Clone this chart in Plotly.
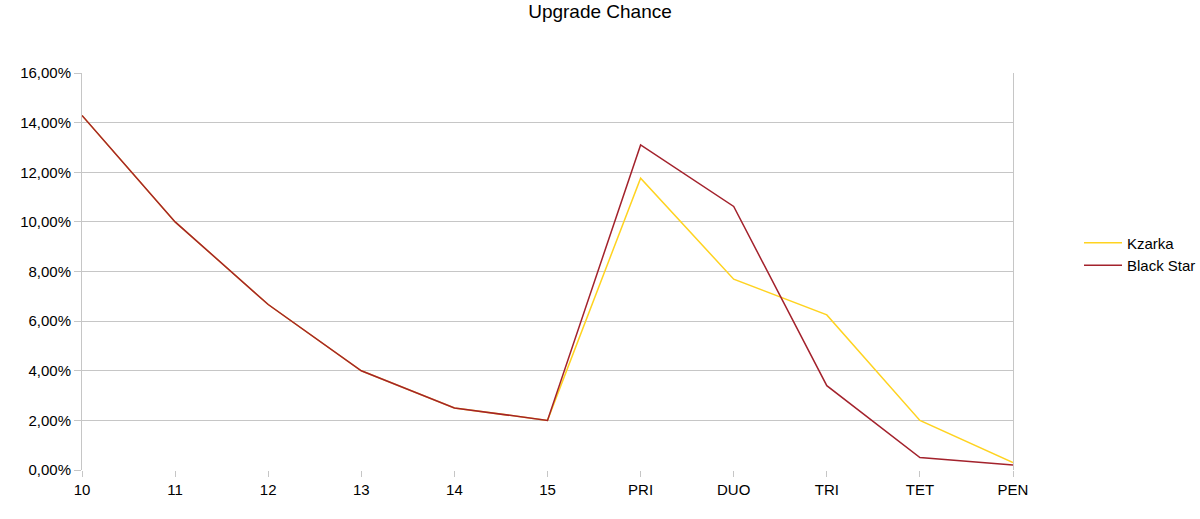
import plotly.graph_objects as go

categories = ["10", "11", "12", "13", "14", "15", "PRI", "DUO", "TRI", "TET", "PEN"]
kzarka = [0.1429, 0.10, 0.0667, 0.04, 0.025, 0.02, 0.1176, 0.0769, 0.0625, 0.02, 0.003]
black_star = [0.1429, 0.10, 0.0667, 0.04, 0.025, 0.02, 0.1310, 0.1062, 0.0340, 0.005, 0.002]
y_ticks = [0, 0.02, 0.04, 0.06, 0.08, 0.10, 0.12, 0.14, 0.16]

fig = go.Figure()
fig.add_trace(go.Scatter(x=categories, y=kzarka, mode="lines", name="Kzarka",
                         line=dict(color="#ffd320", width=1.5)))
fig.add_trace(go.Scatter(x=categories, y=black_star, mode="lines", name="Black Star",
                         line=dict(color="#a3222c", width=1.5)))

fig.update_layout(
    width=1200, height=519,
    paper_bgcolor="white", plot_bgcolor="white",
    separators=",.",
    font=dict(family="Liberation Sans, Arial, sans-serif", size=15, color="#000000"),
    title=dict(text="Upgrade Chance", x=0.5, xanchor="center", y=1 - 11 / 519, yanchor="middle",
               font=dict(size=19)),
    margin=dict(l=82, r=187, t=73, b=49),
    showlegend=True,
    legend=dict(xref="container", yref="container", x=1079 / 1200, xanchor="left",
                y=1 - 254 / 519, yanchor="middle", itemwidth=38,
                font=dict(size=15), bgcolor="rgba(0,0,0,0)"),
)
fig.update_xaxes(type="category", range=[0, 10], showgrid=False, zeroline=False,
                 showline=False, ticks="outside", ticklen=6, tickcolor="#c6c6c6",
                 tickfont=dict(size=15))
fig.update_yaxes(range=[0, 0.16], tickvals=y_ticks, tickformat=".2%",
                 showgrid=True, gridcolor="#c6c6c6", gridwidth=1, zeroline=False,
                 showline=True, linecolor="#c6c6c6", linewidth=1, mirror=True,
                 ticks="outside", ticklen=7, tickcolor="#c6c6c6", tickfont=dict(size=15))

fig.write_html("out.html", config={"displayModeBar": False},
               post_script="document.body.style.margin='0';")
